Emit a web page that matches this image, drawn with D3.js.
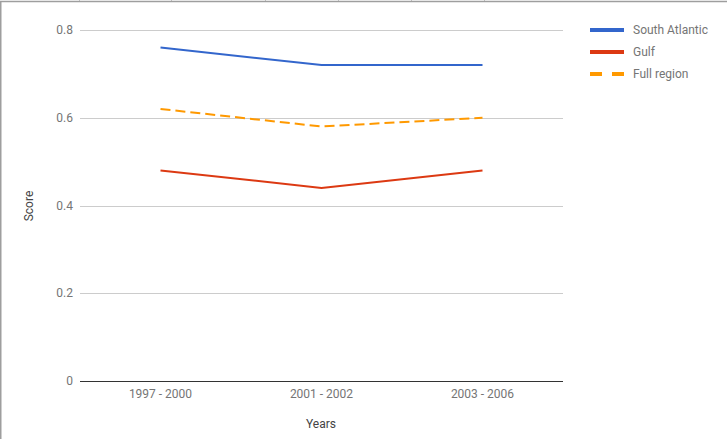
<!DOCTYPE html>
<html><head><meta charset="utf-8">
<script src="https://cdn.jsdelivr.net/npm/d3@7"></script>
<style>body{margin:0;background:#fff}svg{display:block;font-family:Roboto,Arial,sans-serif}</style>
</head><body><svg id="c" width="727" height="439"></svg>
<script>
const categories = ["1997 - 2000", "2001 - 2002", "2003 - 2006"];
const southAtlantic = [0.76, 0.72, 0.72];
const gulf = [0.48, 0.44, 0.48];
const fullRegion = [0.62, 0.58, 0.60];
const yTicks = [0, 0.2, 0.4, 0.6, 0.8];
const seriesNames = ["South Atlantic", "Gulf", "Full region"];
const colors = ["#3366cc", "#dc3912", "#ff9900"];

const svg = d3.select("#c");
const x = d3.scaleBand().domain(categories).range([80, 563]);
const y = d3.scaleLinear().domain([0, 0.8]).range([381, 30]);

// frame
svg.append("line").attr("x1",0).attr("x2",727).attr("y1",1.5).attr("y2",1.5).attr("stroke","#9e9e9e").attr("stroke-width",1.5);
svg.append("line").attr("x1",0.75).attr("x2",0.75).attr("y1",1).attr("y2",439).attr("stroke","#9e9e9e").attr("stroke-width",1.5);
[79,171,265,338,411,484].forEach(t=>svg.append("line").attr("x1",t+0.5).attr("x2",t+0.5).attr("y1",0).attr("y2",1).attr("stroke","#bbb"));

// grid
svg.append("g").selectAll("line").data(yTicks.filter(d=>d>0)).join("line")
  .attr("x1",80).attr("x2",563).attr("y1",d=>Math.round(y(d))+0.5).attr("y2",d=>Math.round(y(d))+0.5)
  .attr("stroke","#cccccc");
svg.append("g").selectAll("text").data(yTicks).join("text")
  .attr("x",73).attr("y",d=>y(d)+4).attr("text-anchor","end")
  .attr("font-size",12).attr("fill","#757575").text(d=>d===0?"0":d3.format(".1f")(d));
svg.append("line").attr("x1",80).attr("x2",563).attr("y1",381.5).attr("y2",381.5).attr("stroke","#333").attr("stroke-width",1);

svg.append("g").selectAll("text").data(categories).join("text")
  .attr("x",d=>x(d)+x.bandwidth()/2).attr("y",398).attr("text-anchor","middle")
  .attr("font-size",12).attr("fill","#757575").text(d=>d);

svg.append("text").attr("x",321).attr("y",428).attr("text-anchor","middle").attr("font-size",12).attr("fill","#444").text("Years");
svg.append("text").attr("transform","translate(33,206) rotate(-90)").attr("text-anchor","middle").attr("font-size",12).attr("fill","#444").text("Score");

const data = [southAtlantic, gulf, fullRegion];
const line = d3.line().x((d,i)=>x(categories[i])+x.bandwidth()/2).y(d=>y(d));
data.forEach((s,k)=>{
  svg.append("path").datum(s).attr("d",line).attr("fill","none")
    .attr("stroke",colors[k]).attr("stroke-width",2)
    .attr("stroke-dasharray",k===2?"10,5":null);
});

// legend
seriesNames.forEach((n,k)=>{
  const ly = 30 + k*22;
  svg.append("line").attr("x1",590).attr("x2",624).attr("y1",ly).attr("y2",ly)
    .attr("stroke",colors[k]).attr("stroke-width",4)
    .attr("stroke-dasharray",k===2?"12,10":null);
  svg.append("text").attr("x",633).attr("y",ly+4).attr("font-size",12).attr("fill","#757575").text(n);
});
</script></body></html>
